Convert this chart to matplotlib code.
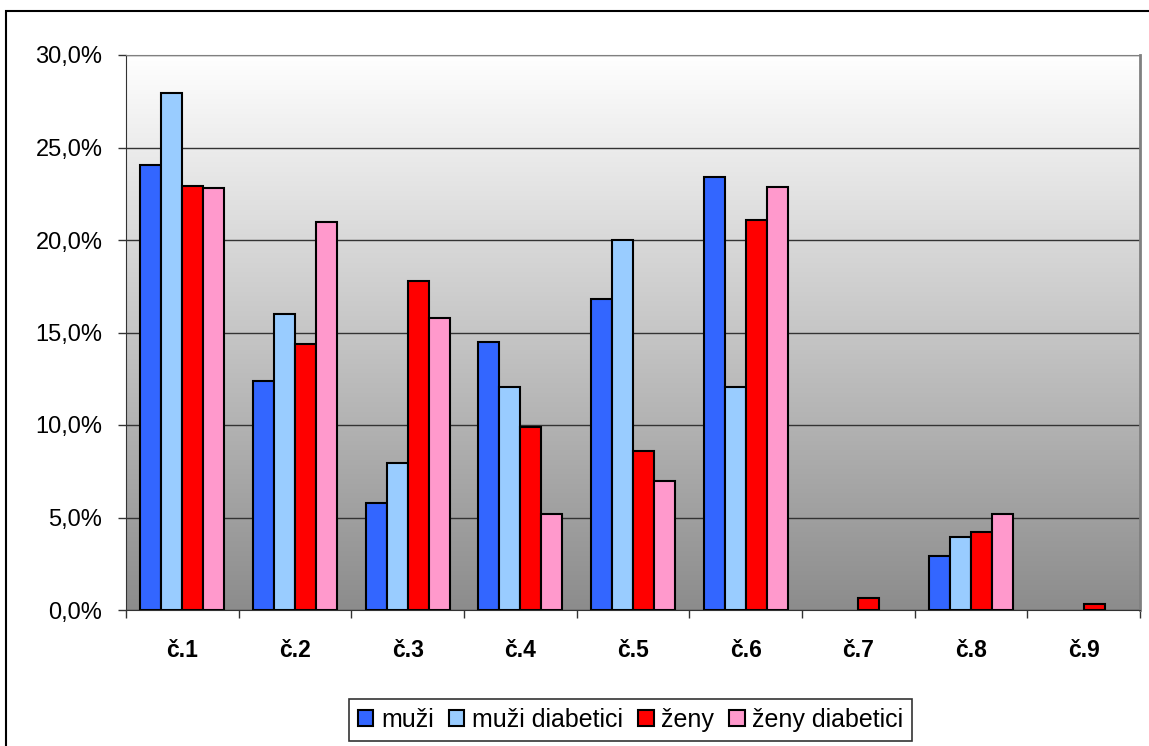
import numpy as np
import matplotlib
matplotlib.use("Agg")
import matplotlib.pyplot as plt
from matplotlib.patches import Rectangle
from matplotlib.ticker import FuncFormatter, MultipleLocator

plt.rcParams['font.family'] = ['Liberation Sans', 'DejaVu Sans']

categories = ["č.1", "č.2", "č.3", "č.4", "č.5", "č.6", "č.7", "č.8", "č.9"]
muzi = [24.05, 12.4, 5.8, 14.5, 16.8, 23.4, 0, 2.9, 0]
muzi_diab = [27.95, 16.0, 7.95, 12.05, 20.0, 12.05, 0, 3.95, 0]
zeny = [22.9, 14.4, 17.8, 9.9, 8.6, 21.1, 0.65, 4.2, 0.3]
zeny_diab = [22.8, 21.0, 15.8, 5.2, 7.0, 22.85, 0, 5.2, 0]

series = [
    ("muži", muzi, "#3366ff"),
    ("muži diabetici", muzi_diab, "#99ccff"),
    ("ženy", zeny, "#ff0000"),
    ("ženy diabetici", zeny_diab, "#ff99cc"),
]

fig = plt.figure(figsize=(11.49, 7.46), dpi=100)
# outer chart frame (runs off the right and bottom edge like the original)
fig.patches.append(Rectangle((6/1149, -0.05), 1.2, 1.05 - 11/746, transform=fig.transFigure,
                             fill=False, edgecolor="black", linewidth=1.5, zorder=0))
ax = fig.add_axes([126/1149, 1 - 610/746, (1140-126)/1149, (610-55)/746])

# gradient background
grad = np.linspace(0, 1, 256).reshape(-1, 1)
ax.imshow(grad, extent=[-0.5, len(categories) - 0.5, 0, 30], aspect="auto",
          cmap=matplotlib.colors.LinearSegmentedColormap.from_list("g", ["#8c8c8c", "#ffffff"]),
          origin="lower", zorder=0)

x = np.arange(len(categories))
w = 0.187
for i, (name, vals, col) in enumerate(series):
    bars = ax.bar(x + (i - 1.5) * w, vals, w, color=col, edgecolor="black", linewidth=1.5,
                  label=name, zorder=3)
    for b in bars:
        if b.get_height() == 0:
            b.set_visible(False)

ax.set_xlim(-0.5, len(categories) - 0.5)
ax.set_ylim(0, 30)
ax.yaxis.set_major_locator(MultipleLocator(5))
ax.yaxis.set_major_formatter(FuncFormatter(lambda v, p: f"{v:.1f}%".replace(".", ",")))
ax.grid(axis="y", color="#333333", linewidth=1, zorder=1)
for ln in ax.get_ygridlines():
    ln.set_zorder(1)

ax.set_xticks(x)
ax.set_xticklabels(categories, fontsize=16.5, fontweight="bold")
ax.set_xticks(np.arange(-0.5, len(categories)), minor=True)
ax.tick_params(axis="x", which="major", length=0, pad=21)
ax.tick_params(axis="x", which="minor", length=6, width=1, color="#333333")
ax.tick_params(axis="y", length=6, width=1, color="#333333", labelsize=17, pad=11)

ax.spines["top"].set_color("#808080")
ax.spines["right"].set_color("#808080")
ax.spines["right"].set_linewidth(2)
ax.spines["left"].set_color("#333333")
ax.spines["bottom"].set_color("#333333")

leg = fig.legend(loc="center", bbox_to_anchor=(630.5/1149, 1 - 720/746), ncol=4, fontsize=18,
                 frameon=True, fancybox=False, edgecolor="black", handlelength=0.63,
                 handleheight=0.63, handletextpad=0.3, columnspacing=0.6, borderpad=0.35)
leg.get_frame().set_linewidth(1.2)

fig.savefig("out.png", dpi=100)
